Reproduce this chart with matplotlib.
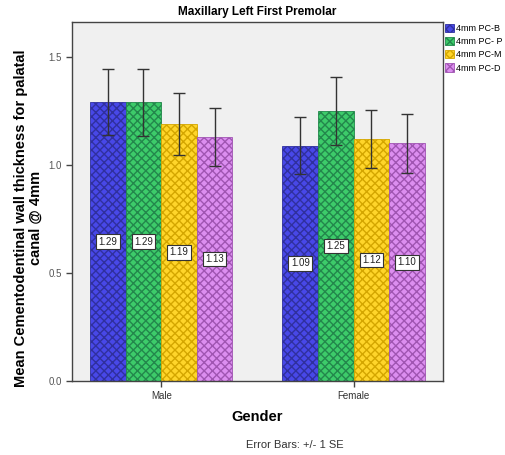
import numpy as np
import matplotlib
matplotlib.use("Agg")
import matplotlib.pyplot as plt

plt.rcParams["font.family"] = ["Liberation Sans", "DejaVu Sans"]

genders = ["Male", "Female"]
series = ["4mm PC-B", "4mm PC- P", "4mm PC-M", "4mm PC-D"]
means = [
    [1.29, 1.09],
    [1.29, 1.25],
    [1.19, 1.12],
    [1.13, 1.10],
]
std_err = [
    [0.153, 0.131],
    [0.155, 0.156],
    [0.143, 0.135],
    [0.136, 0.137],
]
fills = ["#4848e8", "#3dcb6a", "#ffd52a", "#dc8ef0"]
hatch_cols = ["#30309e", "#23874c", "#d4a600", "#a055b2"]

fig = plt.figure(figsize=(5.06, 4.55), dpi=100)
ax = fig.add_axes([0.1423, 0.1626, 0.733, 0.789])
ax.set_facecolor("#f0f0f0")

x = np.arange(len(genders))
width = 0.185
offsets = (np.arange(len(series)) - 1.5) * width

for i, name in enumerate(series):
    pos = x + offsets[i]
    ax.bar(pos, means[i], width, color=fills[i], edgecolor=hatch_cols[i],
           hatch="xxxx", linewidth=0.6, label=name, zorder=2)
    ax.errorbar(pos, means[i], yerr=std_err[i], fmt="none", ecolor="#333333",
                elinewidth=1.0, capsize=4, capthick=1.0, zorder=3)
    for px, val in zip(pos, means[i]):
        ax.text(px, val / 2, f"{val:.2f}", ha="center", va="center",
                fontsize=7, color="#222222", zorder=4,
                bbox=dict(boxstyle="square,pad=0.25", facecolor="white",
                          edgecolor="#333333", linewidth=0.8))

ax.set_xlim(-0.464, 1.464)
ax.set_ylim(0, 1.662)
ax.set_xticks(x)
ax.set_xticklabels(genders, fontsize=7, color="#333333")
ax.set_yticks([0.0, 0.5, 1.0, 1.5])
ax.set_yticklabels(["0.0", "0.5", "1.0", "1.5"], fontsize=7, color="#555555")
ax.tick_params(direction="out", length=4, width=1, color="#444444")
for s in ax.spines.values():
    s.set_color("#444444")
    s.set_linewidth(1.0)

ax.set_title("Maxillary Left First Premolar", fontsize=8.5, fontweight="bold",
             pad=5)
ax.set_xlabel("Gender", fontsize=10.5, fontweight="bold", labelpad=6)
ax.set_ylabel("Mean Cementodentinal wall thickness for palatal\ncanal @ 4mm",
              fontsize=10.5, fontweight="bold", linespacing=1.0)
ax.yaxis.set_label_coords(-0.08, 0.454)

leg = ax.legend(loc="upper left", bbox_to_anchor=(0.99, 1.01), frameon=False,
                fontsize=6.5, handlelength=1.0, handleheight=1.0,
                handletextpad=0.3, labelspacing=0.45, borderaxespad=0.2)

fig.text(0.583, 0.022, "Error Bars: +/- 1 SE", ha="center", va="center",
         fontsize=8, color="#333333")

fig.savefig("out.png", dpi=100, facecolor="white")
